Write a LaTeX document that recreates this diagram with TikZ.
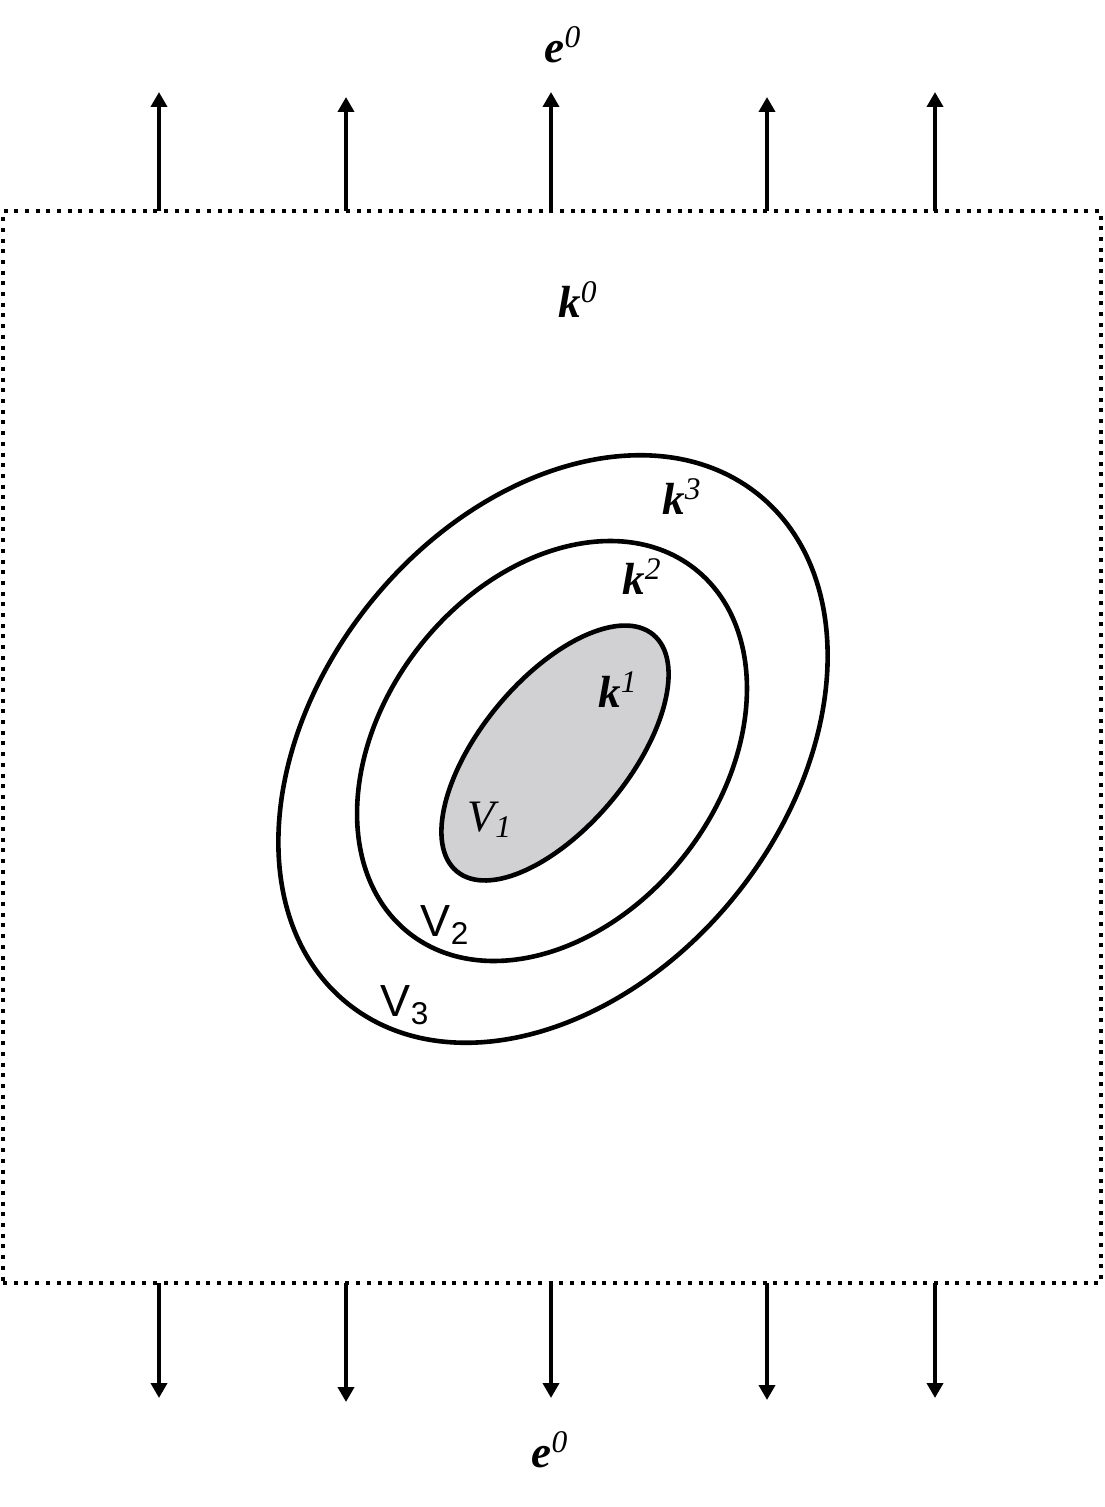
\documentclass[tikz,border=0pt]{standalone}
\usepackage{fontspec}
\setmainfont{Liberation Serif}
\newfontfamily\arialfont{Liberation Sans}
\usetikzlibrary{arrows.meta}
\definecolor{innergray}{RGB}{209,208,210}
\tikzset{
  dotbox/.style={line width=2pt, dash pattern=on 2pt off 3.35pt},
  fieldarrow/.style={line width=2pt, -{Triangle[width=8pt,length=7.5pt]}},
  ring/.style={line width=2.3pt},
  lab/.style={inner sep=0pt, font=\fontsize{22.5}{26}\selectfont},
}
\newcommand{\bk}[2]{{\bfseries\itshape #1}\textsuperscript{\itshape #2}}
\begin{document}
\begin{tikzpicture}[x=0.5pt,y=-0.5pt]
\useasboundingbox (0,0) rectangle (1104,1507);
% box
\node[draw, dotbox, minimum width=549pt, minimum height=536pt, inner sep=0pt] (box) at (552,747) {};
% top arrows
\foreach \i/\x/\t in {1/159/92, 2/346/97, 3/551/92, 4/767/97, 5/935/92} {
  \coordinate (tb\i) at (\x,211);
  \coordinate (tt\i) at (\x,\t);
  \draw[fieldarrow] (tb\i) -- (tt\i);
}
\foreach \i/\x/\t in {1/159/1398, 2/346/1402, 3/551/1398, 4/767/1400, 5/935/1398} {
  \coordinate (bb\i) at (\x,1283);
  \coordinate (bt\i) at (\x,\t);
  \draw[fieldarrow] (bb\i) -- (bt\i);
}
% ellipses
\draw[ring, rotate around={51:(553,749)}] (553,749) ellipse [x radius=327, y radius=234];
\draw[ring, rotate around={52:(552,751)}] (552,751) ellipse [x radius=231.5, y radius=168.8];
\draw[ring, fill=innergray, rotate around={50.3:(555,753)}] (555,753) ellipse [x radius=153.8, y radius=74.1];
% labels
\node[lab] (etop) at (563,45) {\bk{e}{0}};
\node[lab] (k0) at (578,300) {\bk{k}{0}};
\node[lab] (k3) at (682,497) {\bk{k}{3}};
\node[lab] (k2) at (642,577) {\bk{k}{2}};
\node[lab] (k1) at (618,690) {\bk{k}{1}};
\node[lab] (v1) at (490,820) {\itshape V\textsubscript{1}};
\node[lab] (v2) at (445,925) {\arialfont V\textsubscript{2}};
\node[lab] (v3) at (405,1005) {\arialfont V\textsubscript{3}};
\node[lab] (ebot) at (550,1450) {\bk{e}{0}};
\end{tikzpicture}
\end{document}
